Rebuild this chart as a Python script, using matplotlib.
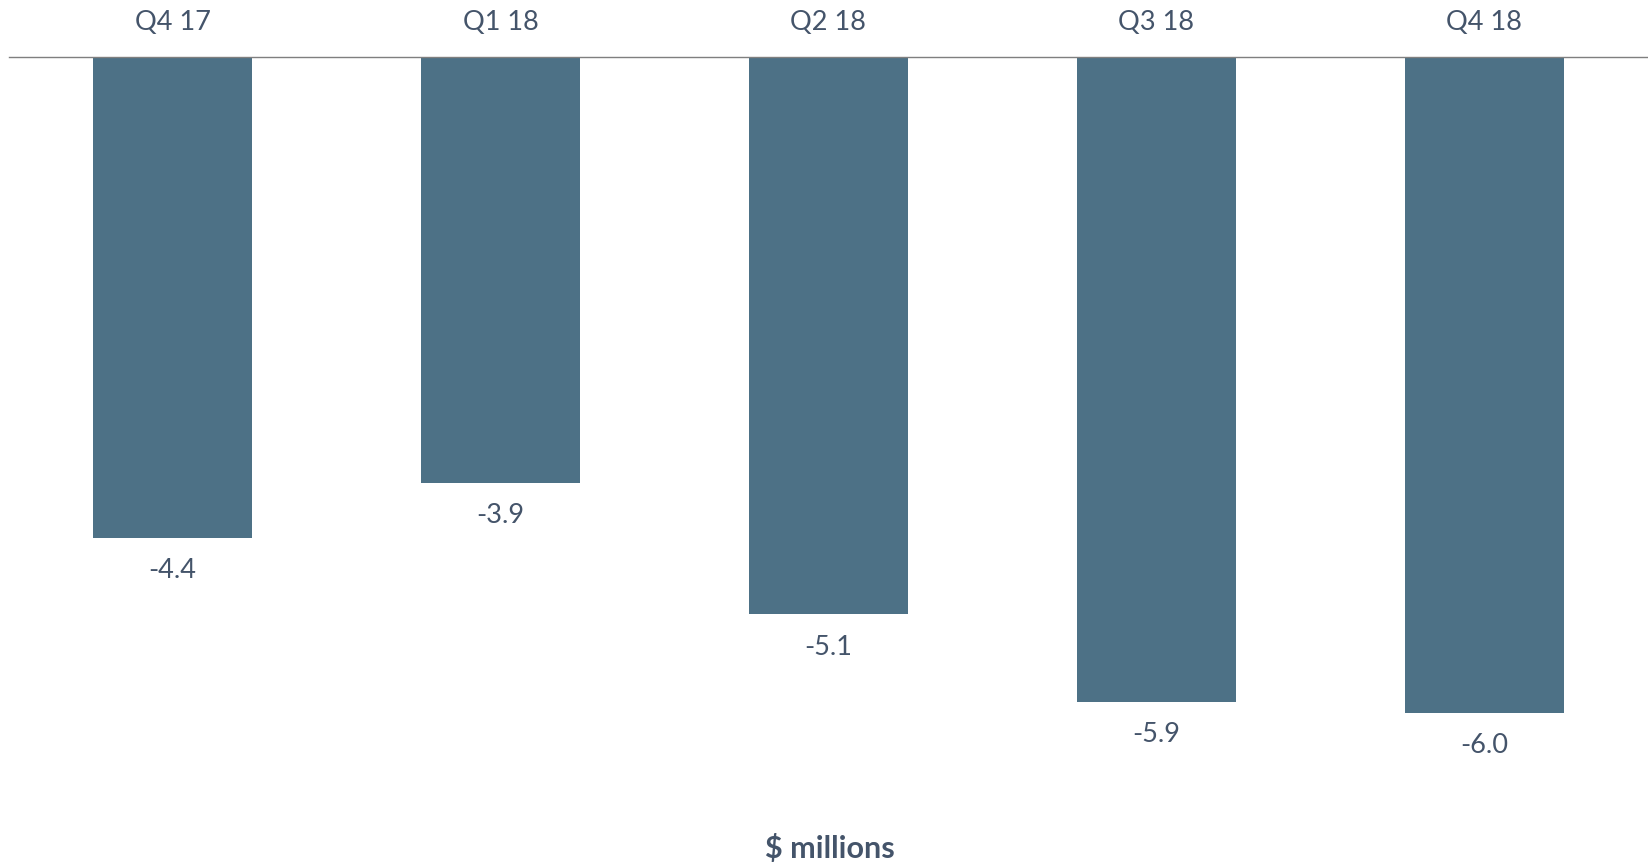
import matplotlib.pyplot as plt

quarters = ['Q4 17', 'Q1 18', 'Q2 18', 'Q3 18', 'Q4 18']
values = [-4.4, -3.9, -5.1, -5.9, -6.0]

bar_color = '#4d7186'
text_color = '#44546a'

plt.rcParams['font.family'] = ['Lato', 'DejaVu Sans']

fig = plt.figure(figsize=(16.49, 8.65), dpi=100)
ax = fig.add_axes([0.0052, 0.0497, 0.9942, 0.8844])

x = range(len(values))
bars = ax.bar(x, values, width=0.485, color=bar_color, zorder=2)

for xi, v in zip(x, values):
    ax.annotate(f'{v:.1f}', (xi, v), xytext=(0, -23.5), textcoords='offset points',
                ha='center', va='center', fontsize=19.5, color=text_color)

ax.set_xlim(-0.5, 4.5)
ax.set_ylim(-7, 0)
ax.xaxis.tick_top()
ax.set_xticks(list(x))
ax.set_xticklabels(quarters, fontsize=19.5, color=text_color)
ax.tick_params(axis='x', length=0, pad=16)
ax.set_yticks([])
for s in ['left', 'right', 'bottom']:
    ax.spines[s].set_visible(False)
ax.spines['top'].set_color('#7f7f7f')
ax.spines['top'].set_linewidth(1.0)

fig.text(0.503, 1 - 848 / 865, '$ millions', ha='center', va='center',
         fontsize=22, fontweight='bold', color=text_color)

fig.savefig('out.png', dpi=100)
